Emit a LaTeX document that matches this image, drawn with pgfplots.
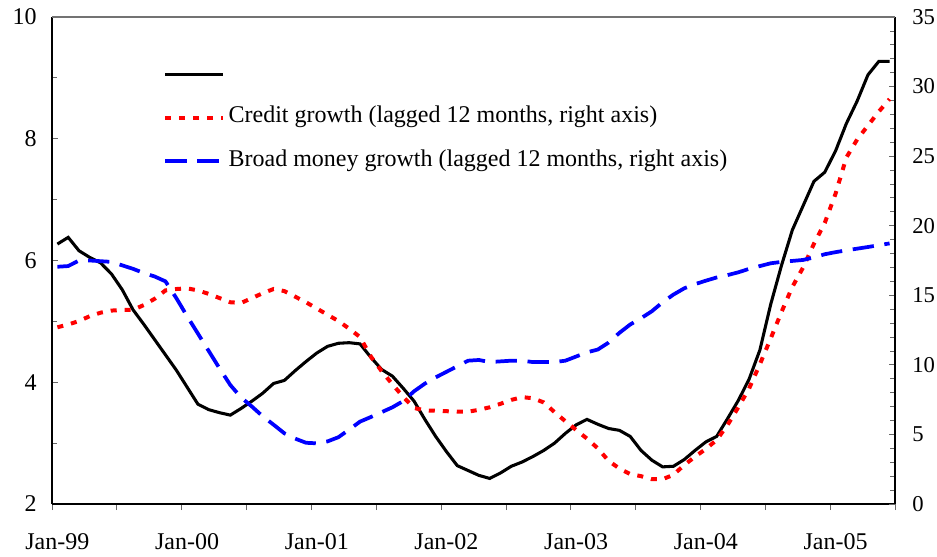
\documentclass[border=0pt]{standalone}
\usepackage{pgfplots}
\usepackage{pgfplotstable}
\pgfplotsset{compat=1.18}
\usepackage{fontspec}
\setmainfont{Liberation Serif}

\pgfplotstableread{
x black red blue
0.5 6.27 12.7 17.05
1.5 6.38 12.9 17.1
2.5 6.16 13.15 17.5
3.5 6.05 13.5 17.5
4.5 5.96 13.75 17.45
5.5 5.78 13.9 17.4
6.5 5.52 13.95 17.15
7.5 5.19 13.95 16.9
8.5 4.95 14.3 16.6
9.5 4.70 14.75 16.35
10.5 4.45 15.35 16.0
11.5 4.20 15.45 14.8
12.5 3.92 15.5 13.5
13.5 3.64 15.35 12.25
14.5 3.55 15.1 11.0
15.5 3.50 14.8 9.75
16.5 3.46 14.5 8.55
17.5 3.57 14.45 7.65
18.5 3.69 14.8 7.0
19.5 3.82 15.15 6.3
20.5 3.98 15.45 5.7
21.5 4.03 15.3 5.08
22.5 4.19 14.9 4.7
23.5 4.34 14.5 4.4
24.5 4.48 14.05 4.36
25.5 4.59 13.6 4.5
26.5 4.64 13.15 4.8
27.5 4.65 12.6 5.35
28.5 4.63 12.0 5.92
29.5 4.41 10.6 6.25
30.5 4.21 9.55 6.6
31.5 4.10 8.6 6.95
32.5 3.90 7.7 7.4
33.5 3.69 6.9 8.1
34.5 3.39 6.73 8.65
35.5 3.11 6.7 9.1
36.5 2.86 6.67 9.5
37.5 2.63 6.63 9.9
38.5 2.55 6.63 10.3
39.5 2.47 6.77 10.35
40.5 2.42 6.95 10.2
41.5 2.51 7.2 10.25
42.5 2.62 7.48 10.3
43.5 2.69 7.68 10.3
44.5 2.78 7.6 10.2
45.5 2.88 7.3 10.2
46.5 3.00 6.6 10.2
47.5 3.16 5.95 10.3
48.5 3.30 5.32 10.6
49.5 3.39 4.7 10.9
50.5 3.31 4.0 11.1
51.5 3.24 3.1 11.6
52.5 3.21 2.55 12.3
53.5 3.11 2.15 12.9
54.5 2.88 2.0 13.35
55.5 2.72 1.78 13.85
56.5 2.61 1.78 14.5
57.5 2.62 2.1 15.05
58.5 2.73 2.8 15.5
59.5 2.88 3.4 15.8
60.5 3.02 3.96 16.05
61.5 3.11 4.6 16.28
62.5 3.40 5.67 16.45
63.5 3.70 6.95 16.65
64.5 4.05 8.3 16.9
65.5 4.53 10.05 17.1
66.5 5.28 11.9 17.3
67.5 5.92 13.8 17.4
68.5 6.50 15.6 17.47
69.5 6.90 17.0 17.54
70.5 7.30 18.7 17.72
71.5 7.45 20.2 17.95
72.5 7.80 22.3 18.1
73.5 8.25 24.9 18.23
74.5 8.62 26.2 18.35
75.5 9.05 27.2 18.47
76.5 9.27 28.2 18.6
77.5 9.27 29.1 18.73
}\datatable

\newcommand{\lblfont}{\fontsize{18}{20}\selectfont}

\begin{document}
\begin{tikzpicture}
\path[use as bounding box] (-39pt,-39pt) rectangle (663.75pt,378pt);
\begin{axis}[
  width=632.25pt, height=365.25pt, scale only axis,
  xmin=0, xmax=78, ymin=2, ymax=10,
  axis x line*=bottom, axis y line*=left,
  axis line style={-, line width=1.3pt, black},
  tick align=inside,
  xtick={0,6,...,78}, xticklabels={},
  xtick style={yshift=-4.5pt, line width=0.6pt, black!60},
  major tick length=4.5pt, minor tick length=4pt,
  extra x ticks={0.5,12.5,24.5,36.5,48.5,60.5,72.5},
  extra x tick labels={Jan-99,Jan-00,Jan-01,Jan-02,Jan-03,Jan-04,Jan-05},
  extra x tick style={major tick length=0pt, xticklabel style={yshift=-18.5pt}},
  ytick={2,4,6,8,10}, minor ytick={3,5,7,9},
  ytick style={line width=0.6pt, black!60},
  yticklabel style={xshift=-8pt},
  tick label style={font=\lblfont},
  /pgf/number format/assume math mode=true,
  clip=false,
]
\addplot[black, line width=2.3pt] table[x=x, y=black] {\datatable};
\end{axis}
\begin{axis}[
  width=632.25pt, height=365.25pt, scale only axis,
  xmin=0, xmax=78, ymin=0, ymax=35,
  axis x line=none, axis y line*=right,
  axis line style={-, line width=1.3pt, black},
  tick align=inside,
  major tick length=4.5pt, minor tick length=4pt,
  ytick={0,5,...,35}, minor ytick={1,2,3,4,6,7,8,9,11,12,13,14,16,17,18,19,21,22,23,24,26,27,28,29,31,32,33,34},
  ytick style={line width=0.6pt, black!60},
  yticklabel style={xshift=9.5pt, font=\fontsize{17}{20}\selectfont},
  /pgf/number format/assume math mode=true,
  clip=false,
  legend cell align=left,
  legend style={draw=none, fill=none, at={(0.1317,0.905)}, anchor=north west,
    font=\lblfont, row sep=16.5pt, inner xsep=0pt, inner ysep=0pt,
    nodes={inner xsep=3pt, inner ysep=0pt, text height=12pt, text depth=4pt}},
  legend image code/.code={\draw[#1] (0pt,0pt) -- (43pt,0pt);},
]
\draw[black!55, line width=1pt] (rel axis cs:0,1) -- (rel axis cs:1,1);
\addlegendimage{black, line width=2.3pt}
\addlegendentry{}
\addplot[red, line width=3pt, dash pattern=on 4.5pt off 6pt] table[x=x, y=red] {\datatable};
\addlegendentry{Credit growth (lagged 12 months, right axis)}
\addplot[blue, line width=2.8pt, dash pattern=on 16pt off 8pt] table[x=x, y=blue] {\datatable};
\addlegendentry{Broad money growth (lagged 12 months, right axis)}
\end{axis}
\end{tikzpicture}
\end{document}
